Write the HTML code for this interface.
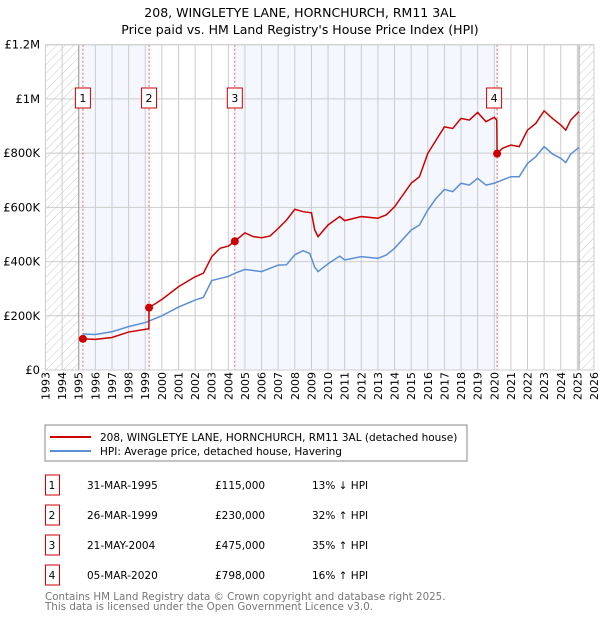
<!DOCTYPE html>
<html><head><meta charset="utf-8"><style>
body{margin:0;background:#fff;font-family:"DejaVu Sans","Liberation Sans",sans-serif;}
svg text{font-family:"DejaVu Sans","Liberation Sans",sans-serif;}
</style></head><body>
<svg id="c" width="600" height="620" xmlns="http://www.w3.org/2000/svg">
<defs><pattern id="h" width="6" height="6" patternUnits="userSpaceOnUse" patternTransform="rotate(45)"><line x1="0" y1="0" x2="0" y2="6" stroke="#bbb" stroke-width="0.8"/></pattern></defs>
<text x="300" y="17" text-anchor="middle" font-size="12.5">208, WINGLETYE LANE, HORNCHURCH, RM11 3AL</text>
<text x="300" y="34" text-anchor="middle" font-size="12.5">Price paid vs. HM Land Registry's House Price Index (HPI)</text>
<g id="plot"></g>
<rect x="45" y="425" width="422" height="36" fill="#fff" stroke="#888"/>
<line x1="50" y1="437" x2="91" y2="437" stroke="#cc0000" stroke-width="2"/>
<text x="100" y="441" font-size="10.5">208, WINGLETYE LANE, HORNCHURCH, RM11 3AL (detached house)</text>
<line x1="50" y1="451" x2="91" y2="451" stroke="#5b8fd4" stroke-width="2"/>
<text x="100" y="455" font-size="10.5">HPI: Average price, detached house, Havering</text>
<g id="tbl"></g>
<text x="45" y="600" font-size="10.3" fill="#777">Contains HM Land Registry data © Crown copyright and database right 2025.</text>
<text x="45" y="610" font-size="10.3" fill="#777">This data is licensed under the Open Government Licence v3.0.</text>
</svg>
<script>
const yearTicks=[1993,1994,1995,1996,1997,1998,1999,2000,2001,2002,2003,2004,2005,2006,2007,2008,2009,2010,2011,2012,2013,2014,2015,2016,2017,2018,2019,2020,2021,2022,2023,2024,2025,2026];
const valueTicks=[0,200000,400000,600000,800000,1000000,1200000];
const valueLabels=["£0","£200K","£400K","£600K","£800K","£1M","£1.2M"];
const hpiT=[1995.25,1996,1997,1998,1999,2000,2001,2002,2002.5,2003,2004,2004.4,2005,2006,2007,2007.5,2008,2008.5,2008.9,2009.2,2009.4,2010,2010.7,2011,2012,2013,2013.5,2014,2015,2015.5,2016,2016.5,2017,2017.5,2018,2018.5,2019,2019.5,2020,2020.5,2021,2021.5,2022,2022.5,2023,2023.5,2024,2024.3,2024.6,2025.1];
const hpiV=[133000,131000,141000,160000,175000,200000,232000,258000,268000,330000,345000,357000,371000,363000,387000,388000,425000,440000,430000,379000,363000,392000,420000,406000,418000,412000,424000,449000,516000,535000,590000,633000,666000,658000,689000,682000,707000,682000,689000,701000,713000,713000,762000,787000,824000,797000,781000,765000,797000,821000];
const priceT=[1995.25,1996,1997,1998,1999.22,1999.23,2000,2001,2002,2002.5,2003,2003.5,2004,2004.39,2005,2005.5,2006,2006.5,2007,2007.5,2008,2008.5,2009,2009.2,2009.4,2010,2010.7,2011,2012,2013,2013.5,2014,2015,2015.5,2016,2016.5,2017,2017.5,2018,2018.5,2019,2019.5,2020,2020.15,2020.17,2020.5,2021,2021.5,2022,2022.5,2023,2023.5,2024,2024.3,2024.6,2025.1];
const priceV=[115000,113000,120000,140000,152000,230000,260000,307000,344000,357000,418000,449000,457000,475000,506000,492000,488000,494000,522000,553000,593000,584000,580000,516000,492000,535000,566000,551000,566000,560000,572000,602000,689000,713000,799000,848000,897000,891000,928000,922000,950000,916000,932000,922000,798000,818000,830000,824000,885000,910000,956000,928000,904000,885000,922000,953000];
const saleT=[1995.25,1999.23,2004.39,2020.17];
const saleV=[115000,230000,475000,798000];
const saleLabels=["1","2","3","4"];
const saleDates=["31-MAR-1995","26-MAR-1999","21-MAY-2004","05-MAR-2020"];
const salePrices=["£115,000","£230,000","£475,000","£798,000"];
const saleHpi=["13% ↓ HPI","32% ↑ HPI","35% ↑ HPI","16% ↑ HPI"];
const X0=45.5,X1=594,Y0=370,Y1=44.7;
const x=t=>X0+(t-1993)/33*(X1-X0);
const y=v=>Y0-v/1200000*(Y0-Y1);
const NS="http://www.w3.org/2000/svg";
function mk(p,tag,a){const e=document.createElementNS(NS,tag);for(const k in a)e.setAttribute(k,a[k]);p.appendChild(e);return e;}
const g=document.getElementById('plot');
let r=mk(g,'rect',{x:X0,y:Y1,width:X1-X0,height:Y0-Y1,fill:'#fff'});


[[saleT[0],saleT[1]],[saleT[2],saleT[3]]].forEach(b=>{
 const e=mk(g,'rect',{x:x(b[0]),y:Y1,width:x(b[1])-x(b[0]),height:Y0-Y1,fill:'#f4f7fe'});
 
 
});
let h1=mk(g,'rect',{x:X0,y:Y1,width:x(1995)-X0,height:Y0-Y1,fill:'url(#h)'});


let h2=mk(g,'rect',{x:x(2025.1),y:Y1,width:X1-x(2025.1),height:Y0-Y1,fill:'url(#h)'});


yearTicks.forEach(t=>{
 const l=mk(g,'line',{x1:x(t),x2:x(t),y1:Y1,y2:Y0,stroke:'#ccc','stroke-width':1});
 
 
 const tx=mk(g,'text',{transform:`translate(${x(t)+4},${Y0+30}) rotate(-90)`,'font-size':11});
 tx.textContent=t;
 
 
});
valueTicks.forEach((v,i)=>{
 const l=mk(g,'line',{x1:X0,x2:X1,y1:y(v),y2:y(v),stroke:'#ccc','stroke-width':1});
 
 
 const tx=mk(g,'text',{x:40,y:y(v)+4,'text-anchor':'end','font-size':11.5});
 tx.textContent=valueLabels[i];
 
 
});
[1995,2025.1].forEach(t=>{const l=mk(g,'line',{x1:x(t),x2:x(t),y1:Y1,y2:Y0,stroke:'#999'});
 
 });
saleT.forEach(t=>{const l=mk(g,'line',{x1:x(t),x2:x(t),y1:Y1,y2:Y0,stroke:'#e06060','stroke-dasharray':'2,2'});
 
 });
let hp=mk(g,'polyline',{points:hpiT.map((t,i)=>x(t)+','+y(hpiV[i])).join(' '),fill:'none',stroke:'#5b8fd4','stroke-width':1.5});


let pp=mk(g,'polyline',{points:priceT.map((t,i)=>x(t)+','+y(priceV[i])).join(' '),fill:'none',stroke:'#cc0000','stroke-width':1.5});


saleT.forEach((t,i)=>{
 const c=mk(g,'circle',{cx:x(t),cy:y(saleV[i]),r:4,fill:'#cc0000'});
 
 
 const bx=x(t)-(i==3?3:0);
 const b=mk(g,'rect',{x:bx-7.5,y:88,width:15,height:20,fill:'#fff',stroke:'#cc0000'});
 
 
 const tx=mk(g,'text',{x:bx,y:102,'text-anchor':'middle','font-size':11});
 tx.textContent=saleLabels[i];
 
 
});
let fr=mk(g,'rect',{x:X0,y:Y1,width:X1-X0,height:Y0-Y1,fill:'none',stroke:'#ccc'});


const tb=document.getElementById('tbl');
saleLabels.forEach((s,i)=>{
 const cy=484+i*30;
 const b=mk(tb,'rect',{x:45.5,y:cy-9,width:14,height:20,fill:'#fff',stroke:'#cc0000'});
 
 
 const vals=[[52,s,'middle'],[87,saleDates[i],'start'],[215,salePrices[i],'start'],[312,saleHpi[i],'start']];
 vals.forEach(v=>{
  const tx=mk(tb,'text',{x:v[0],y:cy+5,'text-anchor':v[2],'font-size':10.5});
  tx.textContent=v[1];
  
  
 });
});
</script>
</body></html>
